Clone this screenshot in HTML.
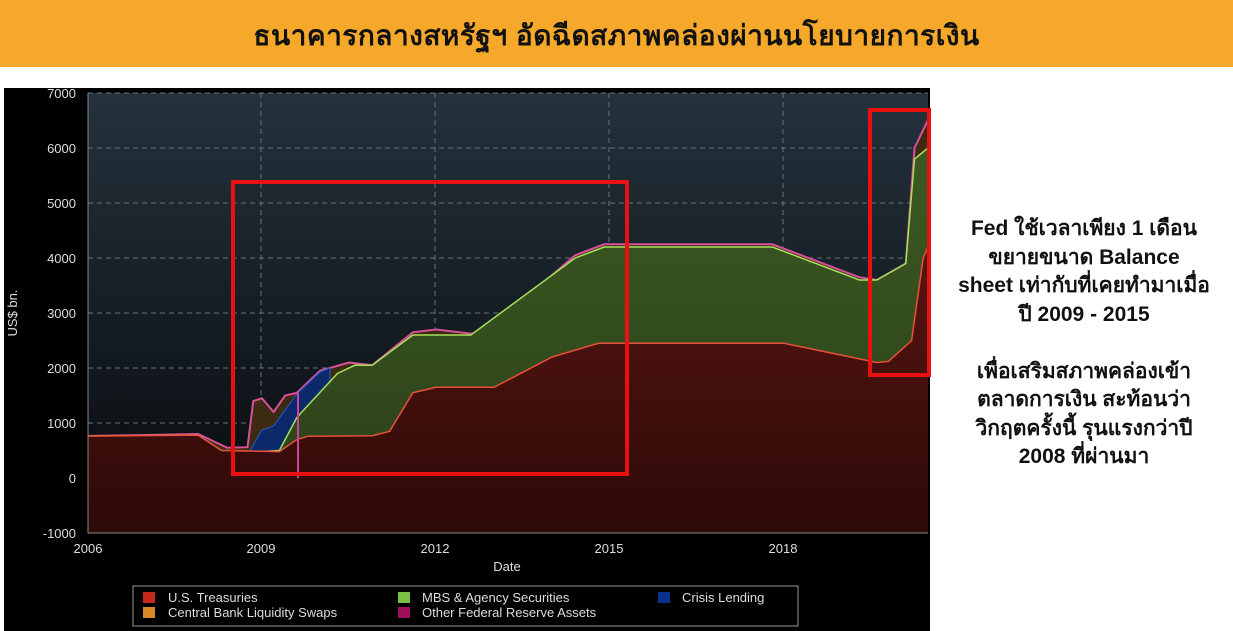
<!DOCTYPE html>
<html><head><meta charset="utf-8"><style>
body{margin:0;width:1233px;height:631px;background:#fff;position:relative;overflow:hidden;font-family:"Liberation Sans","DejaVu Sans",sans-serif}
.hdr{position:absolute;left:0;top:0;width:1233px;height:67px;background:#F5A82A;text-align:center;line-height:72px;font-size:28px;font-weight:bold;color:#111;letter-spacing:0.5px}
.side{position:absolute;left:935px;top:215px;width:298px;text-align:center;font-size:21px;font-weight:bold;line-height:28.5px;color:#111}
svg{position:absolute;left:0;top:0}
</style></head><body>
<div class="hdr">ธนาคารกลางสหรัฐฯ อัดฉีดสภาพคล่องผ่านนโยบายการเงิน</div>
<svg width="1233" height="631" viewBox="0 0 1233 631">
<defs><linearGradient id="bg" x1="0" y1="0" x2="0" y2="1"><stop offset="0" stop-color="#24323d"/><stop offset="1" stop-color="#07090b"/></linearGradient>
<linearGradient id="rd" x1="0" y1="0" x2="0" y2="1"><stop offset="0" stop-color="#5a1512"/><stop offset="1" stop-color="#2a0907"/></linearGradient>
<linearGradient id="gr" x1="0" y1="0" x2="0" y2="1"><stop offset="0" stop-color="#3c5a22"/><stop offset="1" stop-color="#2a3e18"/></linearGradient>
<clipPath id="cp"><rect x="88" y="93" width="840" height="440"/></clipPath></defs>
<rect x="4" y="88" width="926" height="543" fill="#000"/>
<rect x="88" y="93" width="840" height="440" fill="url(#bg)"/>
<g stroke="#6a7078" stroke-dasharray="5,4" stroke-width="1">
<line x1="88" x2="928" y1="93" y2="93"/><line x1="88" x2="928" y1="148" y2="148"/><line x1="88" x2="928" y1="203" y2="203"/><line x1="88" x2="928" y1="258" y2="258"/><line x1="88" x2="928" y1="313" y2="313"/><line x1="88" x2="928" y1="368" y2="368"/><line x1="88" x2="928" y1="423" y2="423"/><line x1="88" x2="928" y1="478" y2="478"/>
<line x1="261" x2="261" y1="93" y2="533"/><line x1="435" x2="435" y1="93" y2="533"/><line x1="609" x2="609" y1="93" y2="533"/><line x1="783" x2="783" y1="93" y2="533"/>
</g>
<g clip-path="url(#cp)">
<polygon fill="#3d2a12" stroke="#d8509a" stroke-width="2" points="80,436.2 198.2,434 227.2,447.8 247.5,447.2 253.3,401 262,398.3 273.6,412 285.2,395.5 296.8,392.8 320,370.8 349,362.5 372.2,365.3 412.8,332.3 436,329.5 482.4,335 575.2,255.3 604.2,244.3 772.4,244.3 859.4,277.3 876.8,280 905.8,263.5 914.5,148 928,120 940,110 940,545 80,545"/>
<polygon fill="#0c2a6a" stroke="#2a5ad0" stroke-width="1" points="250.4,450 262,430 273.6,426 285.2,410 296.8,394 320,372 330,368 330,545 250,545"/>
<polygon fill="url(#gr)" stroke="#a6e05a" stroke-width="1.5" points="80,436.2 198.2,435.1 221.4,450.5 262,451.6 279.4,450.5 296.8,417.5 337.4,373.5 354.8,365.3 372.2,365.3 412.8,335 470.8,335 575.2,258 604.2,247 772.4,247 859.4,280 876.8,280 905.8,263.5 914.5,159 928,148 940,140 940,545 80,545"/>
<polygon fill="url(#rd)" stroke="#e8503a" stroke-width="1.5" points="80,436.2 198.2,435.1 221.4,450.5 279.4,451.6 296.8,439.5 308.4,436.2 372.2,435.7 389.6,431.3 412.8,392.8 436,387.3 494,387.3 552,357 598.4,343.3 784,343.3 876.8,362.5 888.4,361.4 911.6,340.5 923.2,258 928,247 940,240 940,545 80,545"/>
</g>
<line x1="298" x2="298" y1="392" y2="478" stroke="#d040a0" stroke-width="2"/>
<line x1="88" x2="88" y1="93" y2="533" stroke="#888"/>
<line x1="88" x2="928" y1="533" y2="533" stroke="#888"/>
<g fill="#ddd" font-size="13" text-anchor="end">
<text x="76" y="98">7000</text><text x="76" y="153">6000</text><text x="76" y="208">5000</text><text x="76" y="263">4000</text><text x="76" y="318">3000</text><text x="76" y="373">2000</text><text x="76" y="428">1000</text><text x="76" y="483">0</text><text x="76" y="538">-1000</text></g>
<g fill="#ddd" font-size="13" text-anchor="middle"><text x="88" y="553">2006</text><text x="261" y="553">2009</text><text x="435" y="553">2012</text><text x="609" y="553">2015</text><text x="783" y="553">2018</text><text x="507" y="571">Date</text></g>
<text transform="translate(17,313) rotate(-90)" fill="#ddd" font-size="13" text-anchor="middle">US$ bn.</text>
<rect x="133" y="586" width="665" height="40" fill="#000" stroke="#999"/>
<g font-size="13" fill="#ddd">
<rect x="143" y="592" width="12" height="11" fill="#c8281c"/><text x="168" y="602">U.S. Treasuries</text>
<rect x="143" y="607" width="12" height="11" fill="#d88a28"/><text x="168" y="617">Central Bank Liquidity Swaps</text>
<rect x="398" y="592" width="12" height="11" fill="#7ac040"/><text x="422" y="602">MBS &amp; Agency Securities</text>
<rect x="398" y="607" width="12" height="11" fill="#a0105a"/><text x="422" y="617">Other Federal Reserve Assets</text>
<rect x="658" y="592" width="12" height="11" fill="#0a3090"/><text x="682" y="602">Crisis Lending</text></g>
<rect x="233" y="182" width="394" height="292" fill="none" stroke="#e81010" stroke-width="4"/>
<rect x="870" y="110" width="59" height="265" fill="none" stroke="#e81010" stroke-width="4"/>
</svg>
<div class="side">Fed ใช้เวลาเพียง 1 เดือน<br>ขยายขนาด Balance<br>sheet เท่ากับที่เคยทำมาเมื่อ<br>ปี 2009 - 2015<br><br>เพื่อเสริมสภาพคล่องเข้า<br>ตลาดการเงิน สะท้อนว่า<br>วิกฤตครั้งนี้ รุนแรงกว่าปี<br>2008 ที่ผ่านมา</div>
</body></html>
